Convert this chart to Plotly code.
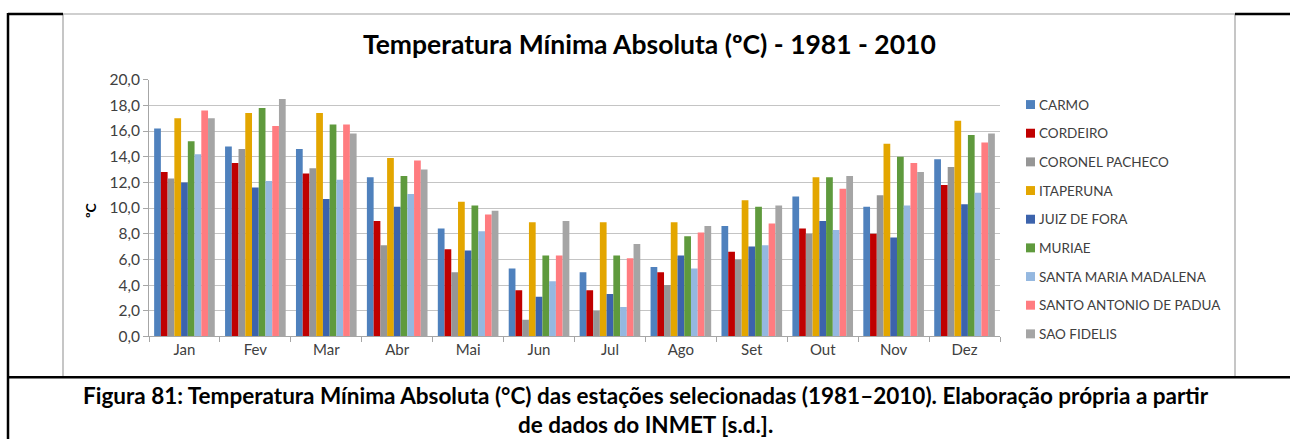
import plotly.graph_objects as go

W, H = 1290, 439

months = ["Jan", "Fev", "Mar", "Abr", "Mai", "Jun", "Jul", "Ago", "Set", "Out", "Nov", "Dez"]

carmo = [16.2, 14.8, 14.6, 12.4, 8.4, 5.3, 5.0, 5.4, 8.6, 10.9, 10.1, 13.8]
cordeiro = [12.8, 13.5, 12.7, 9.0, 6.8, 3.6, 3.6, 5.0, 6.6, 8.4, 8.0, 11.8]
coronel_pacheco = [12.3, 14.6, 13.1, 7.1, 5.0, 1.3, 2.0, 4.0, 6.0, 8.0, 11.0, 13.2]
itaperuna = [17.0, 17.4, 17.4, 13.9, 10.5, 8.9, 8.9, 8.9, 10.6, 12.4, 15.0, 16.8]
juiz_de_fora = [12.0, 11.6, 10.7, 10.1, 6.7, 3.1, 3.3, 6.3, 7.0, 9.0, 7.7, 10.3]
muriae = [15.2, 17.8, 16.5, 12.5, 10.2, 6.3, 6.3, 7.8, 10.1, 12.4, 14.0, 15.7]
santa_maria_madalena = [14.2, 12.1, 12.2, 11.1, 8.2, 4.3, 2.3, 5.3, 7.1, 8.3, 10.2, 11.2]
santo_antonio_de_padua = [17.6, 16.4, 16.5, 13.7, 9.5, 6.3, 6.1, 8.1, 8.8, 11.5, 13.5, 15.1]
sao_fidelis = [17.0, 18.5, 15.8, 13.0, 9.8, 9.0, 7.2, 8.6, 10.2, 12.5, 12.8, 15.8]

series_names = ["CARMO", "CORDEIRO", "CORONEL PACHECO", "ITAPERUNA", "JUIZ DE FORA",
                "MURIAE", "SANTA MARIA MADALENA", "SANTO ANTONIO DE PADUA", "SAO FIDELIS"]
series_values = [carmo, cordeiro, coronel_pacheco, itaperuna, juiz_de_fora,
                 muriae, santa_maria_madalena, santo_antonio_de_padua, sao_fidelis]
series_colors = ["#4F81BD", "#C00000", "#969696", "#E3A600", "#3C63AC",
                 "#5F9A3D", "#95B8E0", "#FF7C80", "#A5A5A5"]

y_ticks = [0, 2, 4, 6, 8, 10, 12, 14, 16, 18, 20]

FONT = "Lato"
TXT = "#404040"

# vertical placement helper: the page shows the figure offset by 8px and
# scaled to 423px of height, so pixel rows are converted accordingly
Y_OFF, Y_SCALE = 8.0, 423.0 / 439.0


def px(x):
    return x / W


def py(y):
    return 1 - ((y - Y_OFF) / Y_SCALE) / H


fig = go.Figure()
for name, vals, col in zip(series_names, series_values, series_colors):
    fig.add_trace(go.Bar(x=months, y=vals, name=name, marker=dict(color=col, line=dict(width=0)),
                         showlegend=False))

shapes = []
annotations = []

# legend: small squares with the station names to the right of the plot
leg_top, leg_step = 103, 28.8
for i, (name, col) in enumerate(zip(series_names, series_colors)):
    yc = leg_top + i * leg_step
    shapes.append(dict(type="rect", xref="paper", yref="paper",
                       x0=px(1026), x1=px(1035), y0=py(yc + 4.5), y1=py(yc - 4.5),
                       fillcolor=col, line=dict(width=0)))
    annotations.append(dict(text=name, xref="paper", yref="paper", x=px(1037), y=py(yc),
                            xanchor="left", yanchor="middle", showarrow=False,
                            font=dict(family=FONT, size=13.5, color=TXT)))

# frame: grey chart cell inside the black table border
grey = "#A0A0A0"
shapes += [
    dict(type="line", xref="paper", yref="paper", x0=px(63), x1=px(1235), y0=py(12), y1=py(12),
         line=dict(color=grey, width=1.2)),
    dict(type="line", xref="paper", yref="paper", x0=px(63), x1=px(63), y0=py(12), y1=py(377),
         line=dict(color=grey, width=1.2)),
    dict(type="line", xref="paper", yref="paper", x0=px(1235), x1=px(1235), y0=py(12), y1=py(377),
         line=dict(color=grey, width=1.2)),
    dict(type="line", xref="paper", yref="paper", x0=px(8), x1=px(63), y0=py(12), y1=py(12),
         line=dict(color="black", width=2.5)),
    dict(type="line", xref="paper", yref="paper", x0=px(1235), x1=px(1290), y0=py(12), y1=py(12),
         line=dict(color="black", width=2.5)),
    dict(type="line", xref="paper", yref="paper", x0=px(8), x1=px(8), y0=py(11), y1=py(460),
         line=dict(color="black", width=2.5)),
    dict(type="line", xref="paper", yref="paper", x0=px(8), x1=px(1290), y0=py(377), y1=py(377),
         line=dict(color="black", width=2.5)),
]

# title and two-line caption
annotations.append(dict(text="<b>Temperatura Mínima Absoluta (ºC) - 1981 - 2010</b>",
                        xref="paper", yref="paper", x=px(649), y=py(42),
                        xanchor="center", yanchor="middle", showarrow=False,
                        font=dict(family=FONT, size=26.5, color="black")))
annotations.append(dict(text="<b>Figura 81: Temperatura Mínima Absoluta (°C) das estações selecionadas (1981–2010). Elaboração própria a partir"
                             "<br>de dados do INMET [s.d.].</b>",
                        xref="paper", yref="paper", x=px(646), y=py(410),
                        xanchor="center", yanchor="middle", showarrow=False, align="center",
                        font=dict(family=FONT, size=22.5, color="black")))
# y-axis title
annotations.append(dict(text="<b>ºC</b>", xref="paper", yref="paper", x=px(90), y=py(209),
                        xanchor="center", yanchor="middle", showarrow=False, textangle=-90,
                        font=dict(family=FONT, size=14, color="black")))

fig.update_layout(
    width=W, height=H,
    margin=dict(l=0, r=0, t=0, b=0),
    paper_bgcolor="white", plot_bgcolor="white",
    barmode="group", bargap=0.145, bargroupgap=0,
    separators=",.",
    shapes=shapes, annotations=annotations,
    xaxis=dict(domain=[px(149), px(1000)], showline=True, linecolor="#A6A6A6", linewidth=1,
               ticks="outside", tickson="boundaries", ticklen=5, tickcolor="#A6A6A6",
               tickfont=dict(family=FONT, size=15, color=TXT), showgrid=False),
    yaxis=dict(domain=[py(336), py(78)], range=[0, 20], tickvals=y_ticks, tickformat=".1f",
               showline=True, linecolor="#A6A6A6", linewidth=1,
               ticks="outside", ticklen=5, tickcolor="#A6A6A6",
               gridcolor="#C4C4C4", gridwidth=1, zeroline=False,
               tickfont=dict(family=FONT, size=15.5, color=TXT)),
)

fig.write_html("out.html")
